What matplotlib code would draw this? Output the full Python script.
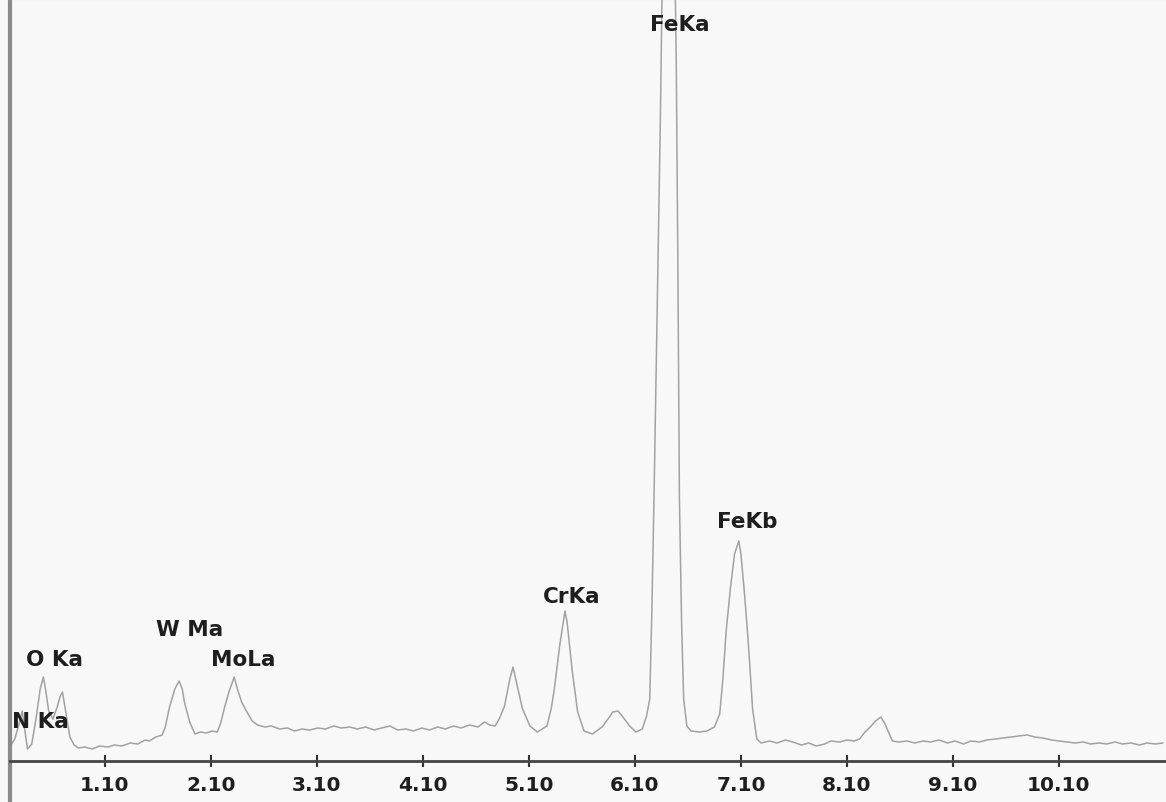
import matplotlib
matplotlib.use("Agg")
import matplotlib.pyplot as plt

# Energy (keV) and counts
energy = [0.22, 0.25, 0.29, 0.32, 0.35, 0.37, 0.41, 0.45, 0.49, 0.52, 0.54, 0.57, 0.61, 0.65, 0.68, 0.70,
          0.73, 0.77, 0.81, 0.85, 0.91, 0.98, 1.05, 1.13, 1.19, 1.26, 1.34, 1.41, 1.48, 1.52, 1.58, 1.64,
          1.67, 1.71, 1.76, 1.80, 1.83, 1.85, 1.90, 1.95, 2.00, 2.06, 2.11, 2.16, 2.19, 2.23, 2.27, 2.32,
          2.35, 2.39, 2.44, 2.49, 2.54, 2.61, 2.67, 2.75, 2.82, 2.89, 2.96, 3.03, 3.11, 3.18, 3.26, 3.33,
          3.41, 3.48, 3.56, 3.64, 3.71, 3.79, 3.86, 3.94, 4.01, 4.09, 4.16, 4.24, 4.31, 4.39, 4.46, 4.54,
          4.62, 4.68, 4.73, 4.78, 4.82, 4.87, 4.92, 4.95, 4.99, 5.04, 5.11, 5.18, 5.27, 5.31, 5.34, 5.39,
          5.44, 5.46, 5.51, 5.56, 5.62, 5.70, 5.79, 5.86, 5.89, 5.94, 5.98, 6.05, 6.11, 6.17, 6.21, 6.24,
          6.26, 6.28, 6.31, 6.34, 6.36, 6.39, 6.42, 6.44, 6.47, 6.49, 6.505, 6.52, 6.54, 6.56, 6.59, 6.63,
          6.71, 6.78, 6.85, 6.90, 6.93, 6.96, 7.00, 7.04, 7.08, 7.10, 7.13, 7.16, 7.18, 7.21, 7.25, 7.29,
          7.37, 7.44, 7.52, 7.59, 7.67, 7.74, 7.81, 7.89, 7.95, 8.03, 8.10, 8.17, 8.22, 8.27, 8.32, 8.37,
          8.42, 8.46, 8.50, 8.53, 8.59, 8.67, 8.74, 8.82, 8.89, 8.97, 9.05, 9.12, 9.20, 9.27, 9.35, 9.42,
          9.50, 9.57, 9.65, 9.72, 9.80, 9.87, 9.95, 10.03, 10.10, 10.18, 10.25, 10.33, 10.40, 10.48, 10.55,
          10.63, 10.70, 10.78, 10.86, 10.93, 11.01, 11.08]
counts = [17, 22, 37, 50, 27, 12, 17, 42, 72, 84, 72, 50, 42, 54, 65, 69,
          50, 24, 16, 13, 14, 12, 15, 14, 16, 15, 18, 17, 21, 20, 24, 26,
          34, 54, 72, 80, 72, 59, 39, 27, 29, 28, 30, 29, 37, 54, 69, 84,
          72, 59, 49, 40, 36, 34, 35, 32, 33, 30, 32, 31, 33, 32, 35, 33,
          34, 32, 34, 31, 33, 35, 31, 32, 30, 33, 31, 34, 32, 35, 33, 36,
          34, 39, 36, 35, 42, 55, 82, 94, 75, 52, 35, 29, 35, 52, 72, 115,
          150, 139, 89, 49, 30, 27, 34, 44, 49, 50, 45, 35, 29, 32, 45, 62,
          150, 262, 450, 640, 800, 1000, 1090, 1000, 850, 700, 500, 262, 140, 62, 35, 30,
          29, 30, 34, 47, 82, 129, 172, 207, 220, 207, 172, 132, 102, 52, 22, 18,
          20, 18, 21, 19, 16, 18, 15, 17, 20, 19, 21, 20, 22, 29, 34, 40,
          44, 37, 27, 20, 19, 20, 18, 20, 19, 21, 18, 20, 17, 20, 19, 21,
          22, 23, 24, 25, 26, 24, 23, 21, 20, 19, 18, 19, 17, 18, 17,
          19, 17, 18, 16, 18, 17, 18]

tick_values = [1.10, 2.10, 3.10, 4.10, 5.10, 6.10, 7.10, 8.10, 9.10, 10.10]
tick_labels = ["1.10", "2.10", "3.10", "4.10", "5.10", "6.10", "7.10", "8.10", "9.10", "10.10"]

peak_names = ["N Ka", "O Ka", "W Ma", "MoLa", "CrKa", "FeKa", "FeKb"]
peak_label_x = [0.487, 0.624, 1.896, 2.405, 5.506, 6.519, 7.16]
peak_label_y = [40, 102, 132, 102, 165, 737, 240]

W, H = 1166, 803
fig = plt.figure(figsize=(W / 100, H / 100), dpi=100, facecolor="#f8f8f8")
ax = fig.add_axes([10 / W, 0, 1 - 10 / W, 1])
ax.set_facecolor("#f8f8f8")

ax.plot(energy, counts, color="#a2a2a2", linewidth=1.1)

ax.set_xlim(0.205, 11.11)
ax.set_ylim(-41, 762)

ax.spines["bottom"].set_position(("data", 0))
ax.spines["bottom"].set_color("#444444")
ax.spines["bottom"].set_linewidth(2)
ax.spines["left"].set_color("#8a8a8a")
ax.spines["left"].set_linewidth(3)
ax.spines["top"].set_color("#cccccc")
ax.spines["top"].set_linewidth(1.5)
ax.spines["right"].set_visible(False)

ax.set_xticks(tick_values)
ax.set_xticklabels(tick_labels)
ax.tick_params(axis="x", direction="inout", length=8, width=1.5, color="#333333",
               pad=6, labelsize=14.5, labelcolor="#1e1e1e")
for lbl in ax.get_xticklabels():
    lbl.set_fontweight("bold")
    lbl.set_family("DejaVu Sans")
ax.set_yticks([])

for name, x, y in zip(peak_names, peak_label_x, peak_label_y):
    ax.text(x, y, name, ha="center", va="center", fontsize=15.5, fontweight="bold",
            color="#1e1e1e", family="DejaVu Sans")

fig.savefig("out.png", dpi=100, facecolor=fig.get_facecolor())
